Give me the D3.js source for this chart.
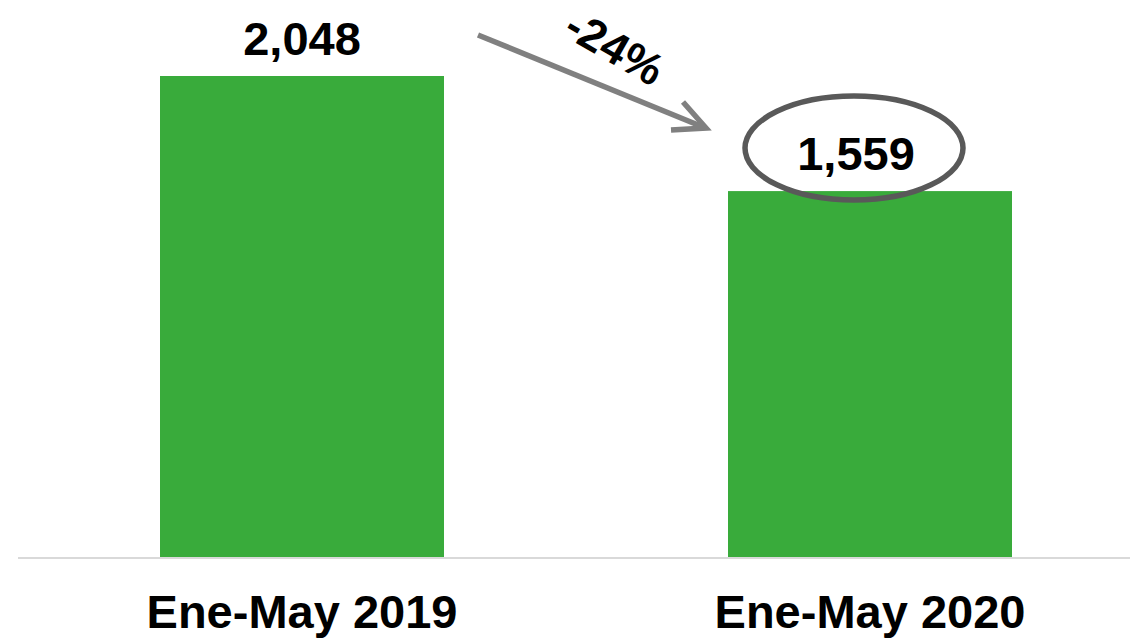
<!DOCTYPE html>
<html>
<head>
<meta charset="utf-8">
<script src="https://cdn.jsdelivr.net/npm/d3@7"></script>
<style>
body { margin: 0; background: #fff; }
text { font-family: "Liberation Sans", Arial, sans-serif; font-weight: bold; fill: #000; }
</style>
</head>
<body>
<div id="canvas"></div>
<script>
// DATA -----------------------------------------------------
var categories = ["Ene-May 2019", "Ene-May 2020"];
var values = [2048, 1559];
var value_labels = ["2,048", "1,559"];
var change_label = "-24%";

// STRUCTURE ------------------------------------------------
var W = 1130, H = 641;
var base_y = 558, top_y = 76;

var svg = d3.select("#canvas").append("svg")
  .attr("width", W)
  .attr("height", H);

// scales
var xScale = d3.scaleBand()
  .domain(categories)
  .range([18, 1154])
  .paddingInner(0.5)
  .paddingOuter(0.25);

var yScale = d3.scaleLinear()
  .domain([0, d3.max(values)])
  .range([base_y, top_y]);

// bars
svg.selectAll(".bar")
  .data(values)
  .enter()
  .append("rect")
  .attr("class", "bar")
  .attr("x", (d, i) => xScale(categories[i]))
  .attr("y", d => yScale(d))
  .attr("width", xScale.bandwidth())
  .attr("height", d => base_y - yScale(d))
  .style("fill", "#39ab3b");

// baseline
svg.append("line")
  .attr("x1", 18).attr("x2", W)
  .attr("y1", base_y).attr("y2", base_y)
  .style("stroke", "#d9d9d9")
  .style("stroke-width", 2);

// category labels
svg.selectAll(".cat")
  .data(categories)
  .enter()
  .append("text")
  .attr("class", "cat")
  .attr("x", d => xScale(d) + xScale.bandwidth() / 2)
  .attr("y", 628)
  .attr("text-anchor", "middle")
  .style("font-size", "47px")
  .text(d => d);

// value labels (second one sits a bit left, inside the ellipse)
var label_dx = [0, -14];
svg.selectAll(".val")
  .data(values)
  .enter()
  .append("text")
  .attr("class", "val")
  .attr("x", (d, i) => xScale(categories[i]) + xScale.bandwidth() / 2 + label_dx[i])
  .attr("y", d => yScale(d) - 21)
  .attr("text-anchor", "middle")
  .style("font-size", "47px")
  .text((d, i) => value_labels[i]);

// ellipse around the 2020 value
var cx2 = xScale(categories[1]) + xScale.bandwidth() / 2 - 16;
svg.append("ellipse")
  .attr("cx", cx2)
  .attr("cy", yScale(values[1]) - 43)
  .attr("rx", 109)
  .attr("ry", 52)
  .style("fill", "none")
  .style("stroke", "#595959")
  .style("stroke-width", 5.5);

// arrow
var arrow = svg.append("g").attr("class", "arrow")
  .style("stroke", "#808080")
  .style("stroke-width", 5.5)
  .style("fill", "none");
arrow.append("line")
  .attr("x1", 478).attr("y1", 35)
  .attr("x2", 703).attr("y2", 127);
arrow.append("path")
  .attr("d", "M683,102 L706,128 L671,130")
  .style("stroke-linejoin", "miter");

// change label
svg.append("text")
  .attr("transform", "translate(607,61) rotate(30)")
  .attr("text-anchor", "middle")
  .style("font-size", "45px")
  .text(change_label);
</script>
</body>
</html>
